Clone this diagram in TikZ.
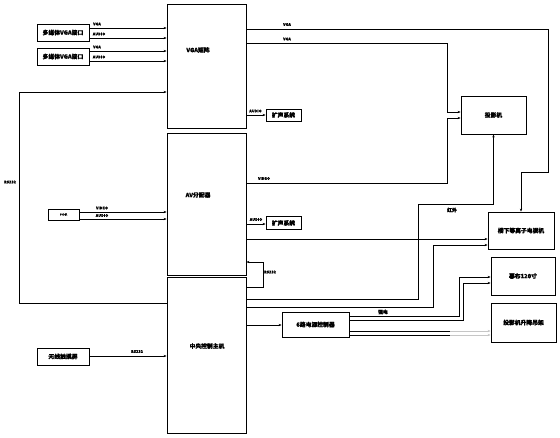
\documentclass[tikz,border=0pt]{standalone}
\usepackage{fontspec}
\newfontfamily\cjk[FakeBold=1.2]{Noto Sans CJK SC}
\usetikzlibrary{arrows.meta}

\begin{document}
\begin{tikzpicture}[x=1pt,y=-1pt,
  box/.style={draw,line width=0.8pt,inner sep=0pt,font=\cjk\bfseries\fontsize{5.8}{6}\selectfont},
  sig/.style={line width=0.8pt,-{Stealth[length=3pt,width=2.4pt]}},
  wire/.style={line width=0.8pt},
  lbl/.style={font=\cjk\bfseries\fontsize{3.8}{4}\selectfont,inner sep=0pt}]
\useasboundingbox (0,0) rectangle (560,437);
% Draw the boxes
\node[box,minimum width=52pt,minimum height=17pt] (mm1) at (63,32.5) {多媒体VGA接口};
\node[box,minimum width=52pt,minimum height=17pt] (mm2) at (63,56.5) {多媒体VGA接口};
\node[box,minimum width=79pt,minimum height=124pt] (vga) at (206.5,66) {};
\node[box,minimum width=79pt,minimum height=142pt] (av) at (206.5,204) {};
\node[box,minimum width=79pt,minimum height=156pt] (ctrl) at (206.5,355) {};
\node[box,draw=none] (vgatxt) at (198,50) {VGA矩阵};
\node[box,draw=none] (avtxt) at (198,195) {AV分配器};
\node[box,draw=none] (ctrltxt) at (207,346) {中央控制主机};
\node[box,minimum width=31pt,minimum height=11pt,font=\cjk\fontsize{2.5}{3}\selectfont] (dvd) at (63.5,214.5) {DVD机};
\node[box,minimum width=52pt,minimum height=17pt] (touch) at (63,356.5) {无线触摸屏};
\node[box,minimum width=35pt,minimum height=12pt] (ext1) at (283.5,115) {扩声系统};
\node[box,minimum width=35pt,minimum height=13pt] (ext2) at (283.5,223) {扩声系统};
\node[box,minimum width=65pt,minimum height=38pt] (proj) at (493.5,115) {投影机};
\node[box,minimum width=66pt,minimum height=37pt] (tv) at (521,230.5) {楼下等离子电视机};
\node[box,minimum width=64pt,minimum height=38pt] (screen) at (523,276) {幕布120寸};
\node[box,minimum width=65pt,minimum height=39pt] (lift) at (523.5,322.5) {投影机升降吊架};
\node[box,minimum width=67pt,minimum height=25pt] (pwr) at (315.5,324.5) {6路电源控制器};
% Inputs on the left
\draw[sig] (mm1.east |- 0,28) -- (vga.west |- 0,28);
\draw[sig] (mm1.east |- 0,38) -- (vga.west |- 0,38);
\draw[sig] (mm2.east |- 0,51) -- (vga.west |- 0,51);
\draw[sig] (mm2.east |- 0,61) -- (vga.west |- 0,61);
\node[lbl] (l1) at (97,24) {VGA};
\node[lbl] (l2) at (99,34) {AUDIO};
\node[lbl] (l3) at (97,47) {VGA};
\node[lbl] (l4) at (99,57) {AUDIO};
\draw[sig] (dvd.east |- 0,212) -- (av.west |- 0,212);
\draw[sig] (dvd.east |- 0,219) -- (av.west |- 0,219);
\node[lbl] (l5) at (102,208) {VIDEO};
\node[lbl] (l6) at (102,215.5) {AUDIO};
\draw[sig] (touch.east |- 0,356) -- (ctrl.west |- 0,356);
\node[lbl] (l7) at (137,351.5) {RS232};
\draw[sig] (ctrl.west |- 0,303) -- ++(-147,0) |- (vga.west |- 0,92);
\node[lbl] (l8) at (10,182) {RS232};
% Outputs of the VGA matrix
\draw[sig] (vga.east |- 0,29) -| (548,172) -| (tv.north);
\node[lbl] (l9) at (287,24.5) {VGA};
\draw[sig] (vga.east |- 0,43) -| (447,112) -- (proj.west |- 0,112);
\node[lbl] (l10) at (287,39) {VGA};
\draw[sig] (vga.east |- 0,115) -- (ext1.west);
\node[lbl] (l11) at (255.5,111) {AUDIO};
% Outputs of the AV splitter
\draw[sig] (av.east |- 0,183) -| (447,118) -- (proj.west |- 0,118);
\node[lbl] (l12) at (264,178.5) {VIDEO};
\draw[sig] (av.east |- 0,224) -- (ext2.west |- 0,224);
\node[lbl] (l13) at (256,219.5) {AUDIO};
\draw[sig] (av.east |- 0,239) -- (tv.west |- 0,239);
% Outputs of the control unit
\draw[sig] (ctrl.east |- 0,287) -| (263,262) -- (av.east |- 0,262);
\node[lbl] (l14) at (270,272) {RS232};
\draw[sig] (ctrl.east |- 0,299) -| (418,204) -| (proj.south);
\node[lbl,font=\cjk\bfseries\fontsize{4.8}{5}\selectfont] (l15) at (452,210) {红外};
\draw[sig] (ctrl.east |- 0,307) -| (433,245) -- (tv.west |- 0,245);
\draw[sig] (ctrl.east |- 0,325) -- (pwr.west |- 0,325);
% Power controller outputs
\draw[sig] (pwr.east |- 0,316) -| (459,277) -- (screen.west |- 0,277);
\draw[sig] (pwr.east |- 0,320) -| (463,283) -- (screen.west |- 0,283);
\node[lbl,font=\cjk\bfseries\fontsize{4.8}{5}\selectfont] (l16) at (383,312) {强电};
\draw[wire] (pwr.east |- 0,331) -- (450,331) coordinate (g1);
\draw[sig,gray!45] (g1) -- (lift.west |- 0,331);
\draw[wire] (pwr.east |- 0,335) -- (450,335) coordinate (g2);
\draw[sig,gray!45] (g2) -- (lift.west |- 0,335);
\end{tikzpicture}
\end{document}
